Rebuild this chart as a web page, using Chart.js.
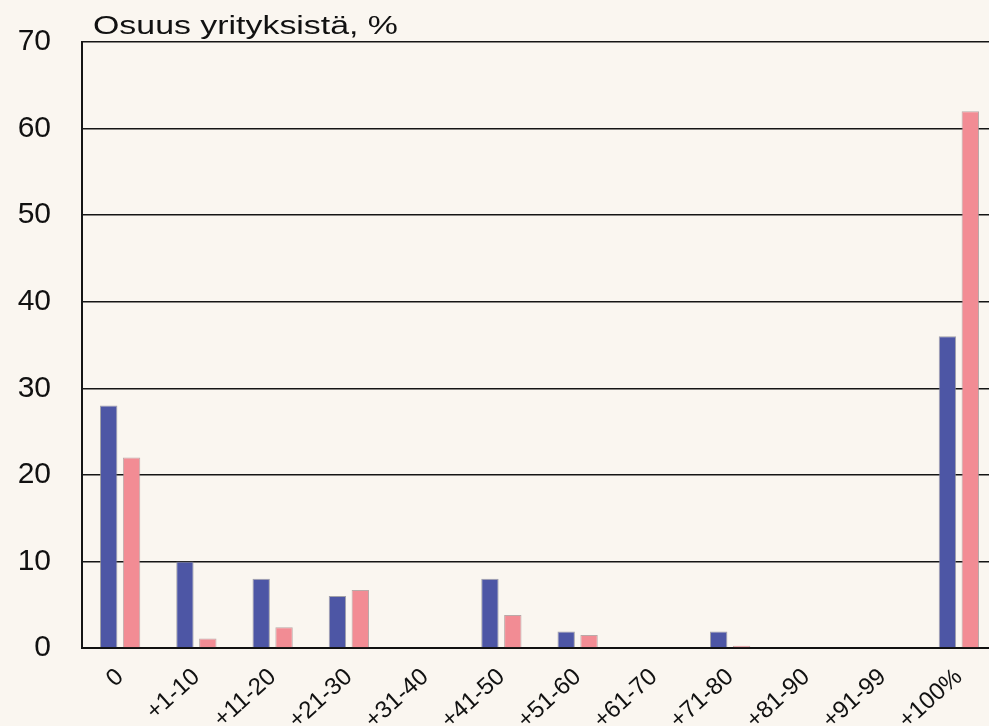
<!DOCTYPE html>
<html>
<head>
<meta charset="utf-8">
<script src="https://cdn.jsdelivr.net/npm/chart.js@4"></script>
<style>
  html, body { margin: 0; padding: 0; background: #faf6f0; overflow: hidden; }
  #wrap { width: 998px; height: 726px; }
</style>
</head>
<body>
<div id="wrap"><canvas id="myChart"></canvas></div>
<script>
// luokat (muutos, %)
const categories = ['0', '+1-10', '+11-20', '+21-30', '+31-40', '+41-50',
  '+51-60', '+61-70', '+71-80', '+81-90', '+91-99', '+100%'];
const seriesBlue = [28, 10, 8, 6, 0, 8, 1.9, 0, 1.9, 0, 0, 36];
const seriesPink = [22, 1.1, 2.4, 6.7, 0, 3.8, 1.5, 0, 0.25, 0, 0, 62];
const yTicks = [0, 10, 20, 30, 40, 50, 60, 70];
const yTitle = 'Osuus yrityksistä, %';

// otsikko vasempaan yläkulmaan (hieman leveämpi fontti kuin normaali)
const titlePlugin = {
  id: 'cornerTitle',
  afterDraw(chart) {
    const ctx = chart.ctx;
    ctx.save();
    ctx.font = '26px "Liberation Sans", Arial, sans-serif';
    ctx.fillStyle = '#111';
    ctx.textBaseline = 'alphabetic';
    const w = ctx.measureText(yTitle).width;
    ctx.translate(93, 34);
    ctx.scale(305 / w, 1);
    ctx.fillText(yTitle, 0, 0);
    ctx.restore();
  }
};

const zeroNoBorder = c => (c.raw === 0 ? 0 : 1);

new Chart(document.getElementById('myChart'), {
  type: 'bar',
  data: {
    labels: categories,
    datasets: [{
      data: seriesBlue,
      backgroundColor: '#4d56a5',
      borderColor: 'rgba(140,140,150,0.8)',
      borderWidth: zeroNoBorder,
      borderSkipped: 'bottom',
      barPercentage: 0.76,
      categoryPercentage: 0.6
    }, {
      data: seriesPink,
      backgroundColor: '#f28c94',
      borderColor: 'rgba(170,150,150,0.8)',
      borderWidth: zeroNoBorder,
      borderSkipped: 'bottom',
      barPercentage: 0.76,
      categoryPercentage: 0.6
    }]
  },
  options: {
    responsive: true,
    maintainAspectRatio: false,
    animation: false,
    layout: { padding: { top: 42, left: 0, right: 1, bottom: 0 } },
    plugins: {
      legend: { display: false },
      tooltip: { enabled: false }
    },
    scales: {
      x: {
        grid: { display: false, drawTicks: false },
        border: { display: true, color: '#111', width: 2 },
        ticks: {
          color: '#111',
          font: { size: 24, family: '"Liberation Sans", Arial, sans-serif' },
          minRotation: 42,
          maxRotation: 42,
          padding: 15,
          autoSkip: false
        },
        afterFit(scale) { scale.height = 78; }
      },
      y: {
        min: 0,
        max: 70,
        afterBuildTicks(scale) { scale.ticks = yTicks.map(v => ({ value: v })); },
        grid: { color: '#151515', lineWidth: 1.5, drawTicks: false },
        border: { display: true, color: '#151515', width: 2 },
        ticks: {
          color: '#111',
          font: { size: 30, family: '"Liberation Sans", Arial, sans-serif' },
          padding: 31
        },
        afterFit(scale) {
          scale.width = 82;
          scale.paddingTop = 0;
          scale.paddingBottom = 0;
        }
      }
    }
  },
  plugins: [titlePlugin]
});
</script>
</body>
</html>
